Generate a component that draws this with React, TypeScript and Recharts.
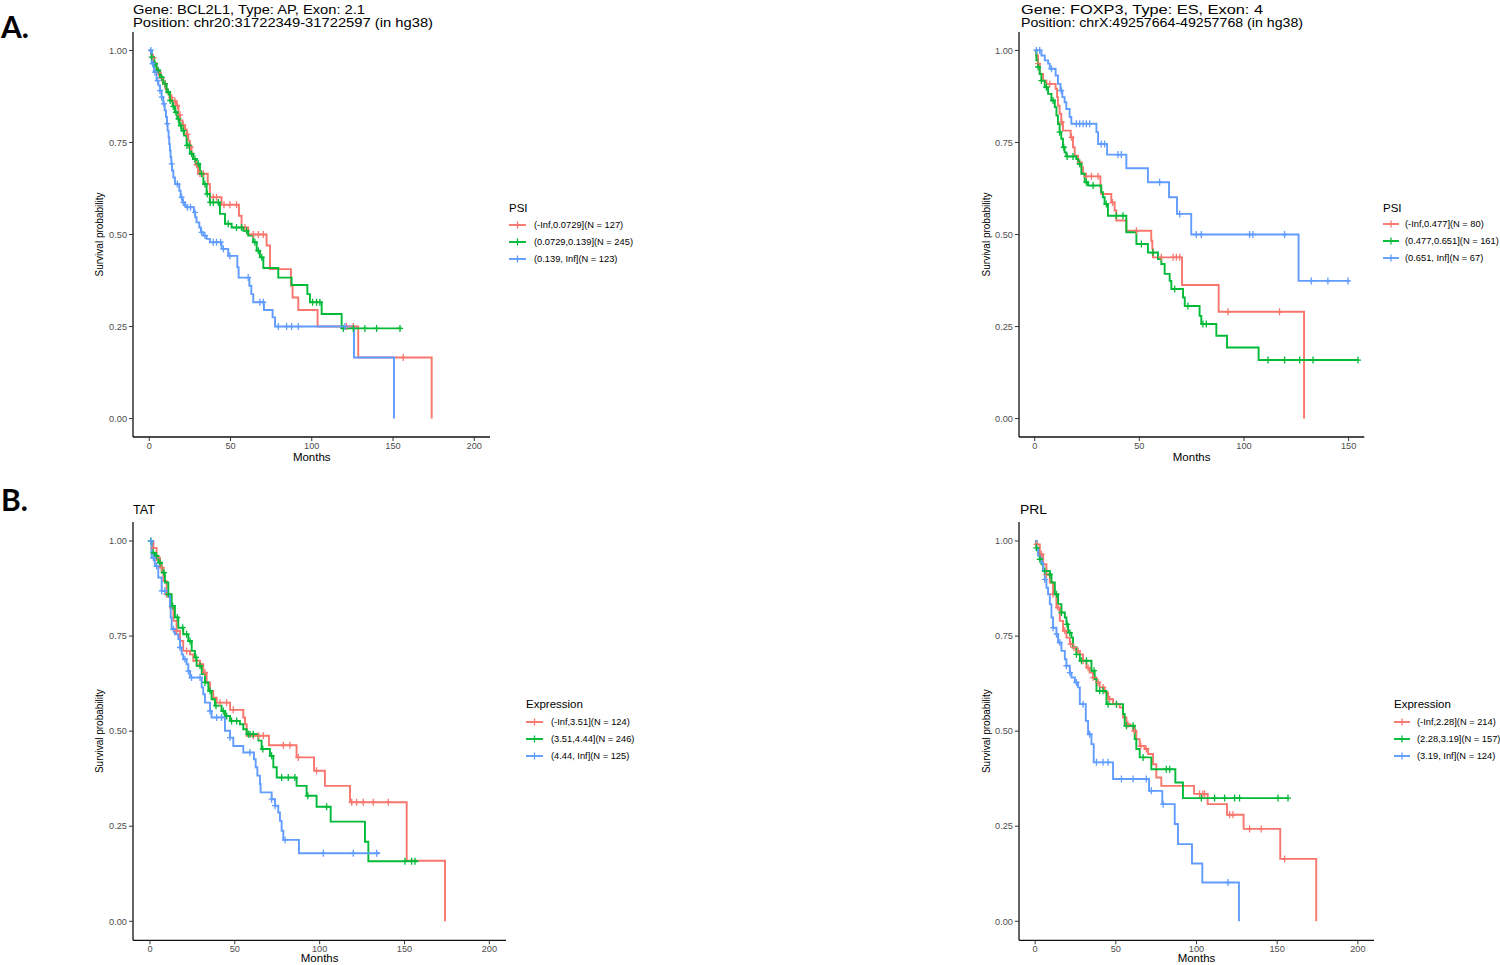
import { ComposedChart, Line, Scatter, XAxis, YAxis } from 'recharts';

const FONT = '"Liberation Sans", Arial, Helvetica, sans-serif';
const COLORS = ['#F8766D', '#00BA38', '#619CFF'];

// A (left) - BCL2L1 PSI groups: months, survival, censor months
const bclLowT = [0, 1, 2, 3, 4.5, 5.5, 7, 8.5, 10, 11, 12.5, 14, 16.5, 18, 19, 20.5, 22, 23, 24, 25, 26, 27, 28.5, 30, 36, 37.3, 44.5, 55.2, 56.8, 60.9, 72.2, 74.3, 87.2, 88.2, 91.7, 103.6, 128.6, 173.8];
const bclLowS = [1, 0.99, 0.98, 0.965, 0.95, 0.94, 0.925, 0.91, 0.895, 0.885, 0.872, 0.862, 0.85, 0.825, 0.81, 0.797, 0.785, 0.772, 0.755, 0.737, 0.72, 0.705, 0.69, 0.665, 0.637, 0.601, 0.581, 0.551, 0.519, 0.5, 0.47, 0.406, 0.361, 0.329, 0.295, 0.25, 0.166, 0];
const bclLowCens = [2.5, 5.6, 7.6, 9.7, 13.8, 15.8, 17.3, 18.9, 20.9, 23.5, 25.5, 29.1, 31.2, 33.3, 39.4, 41.4, 46, 49.6, 53.7, 58.9, 64, 67.1, 70.2, 121.4, 125.6, 156.3];
const bclMidT = [0, 1.5, 2.9, 4.5, 6.6, 8.6, 10.7, 12.7, 14.4, 15.8, 17.2, 18.5, 19.9, 21.4, 23, 25, 27.1, 29.1, 31.2, 33.3, 35.3, 37.3, 43.5, 46.6, 50.7, 57.9, 60.9, 64, 66.1, 68.1, 70.2, 79.4, 87.6, 97.3, 98.9, 106.1, 118.4, 155.3];
const bclMidS = [1, 0.982, 0.964, 0.946, 0.927, 0.909, 0.887, 0.864, 0.848, 0.832, 0.814, 0.796, 0.782, 0.769, 0.742, 0.719, 0.705, 0.692, 0.665, 0.637, 0.61, 0.587, 0.556, 0.529, 0.519, 0.51, 0.497, 0.479, 0.456, 0.438, 0.409, 0.383, 0.363, 0.338, 0.316, 0.284, 0.245, 0.245];
const bclMidCens = [1.5, 3.5, 5.5, 7.6, 9.7, 11.7, 12.9, 14.8, 16.4, 17.9, 19.4, 21, 23.2, 24.6, 26.1, 28.1, 30.2, 32.2, 34.3, 35.7, 37.5, 39.4, 42.5, 48.6, 53.7, 56.8, 59.9, 65, 67.1, 69.2, 100.5, 103, 105, 119.4, 125.6, 132.7, 139.9, 154.3];
const bclHighT = [0, 1.5, 2.9, 4.5, 5.6, 6.6, 7.6, 8.6, 9.5, 10.3, 10.9, 11.3, 11.9, 12.3, 12.7, 13.1, 13.6, 14, 14.8, 15.8, 18.5, 19.3, 20.5, 22, 23, 27.5, 28.3, 29.1, 30.8, 31.8, 33.3, 35.3, 37.3, 44.5, 48.6, 54.2, 55, 61.6, 62.8, 64, 70.6, 75.9, 77.4, 126, 150.6];
const bclHighS = [1, 0.964, 0.941, 0.918, 0.905, 0.891, 0.873, 0.855, 0.837, 0.819, 0.801, 0.782, 0.764, 0.746, 0.728, 0.71, 0.692, 0.674, 0.655, 0.637, 0.619, 0.601, 0.587, 0.578, 0.574, 0.56, 0.547, 0.533, 0.519, 0.506, 0.497, 0.488, 0.479, 0.461, 0.442, 0.411, 0.383, 0.361, 0.338, 0.316, 0.295, 0.275, 0.25, 0.166, 0];
const bclHighCens = [1, 2.1, 3.5, 5.2, 6.6, 7.6, 9, 11.1, 13.8, 17.3, 19.9, 21, 23.5, 25.4, 28.1, 32.2, 34.3, 39.4, 41.4, 43.9, 45.6, 49.6, 60.9, 68.1, 70.2, 79.4, 84.5, 87.6, 91.7, 120.4];

// A (right) - FOXP3
const foxLowT = [0, 0.8, 1.6, 2.4, 4, 5.6, 10, 10.7, 11.1, 11.9, 12.7, 13.5, 17.2, 18.3, 19.1, 20.7, 22.3, 23.1, 23.9, 31.4, 31.8, 36.6, 38.2, 39, 43.8, 55.7, 56.2, 56.5, 70.4, 87.9, 128.7];
const foxLowS = [1, 0.986, 0.964, 0.936, 0.918, 0.909, 0.896, 0.873, 0.85, 0.828, 0.805, 0.782, 0.764, 0.737, 0.714, 0.696, 0.683, 0.665, 0.658, 0.628, 0.61, 0.587, 0.565, 0.538, 0.51, 0.483, 0.461, 0.438, 0.363, 0.29, 0];
const foxLowCens = [1.6, 7.2, 12.9, 17.6, 21.5, 24.7, 27.1, 30.3, 37.2, 48.6, 60.5, 66.1, 67.7, 69.3, 92.4, 117];
const foxMidT = [0, 0.8, 1.6, 2.4, 3.2, 4.8, 6.4, 8, 9.6, 10.4, 11.1, 11.9, 12.7, 13.5, 14.3, 15.1, 19.9, 20.7, 22.3, 23.9, 25.5, 31.8, 32.6, 33.4, 35, 43.8, 48.6, 54.1, 58.9, 60.5, 62.1, 64.5, 65.3, 70.9, 71.7, 78.8, 79.6, 86.8, 91.9, 107, 154.9];
const foxMidS = [1, 0.973, 0.955, 0.936, 0.918, 0.9, 0.882, 0.864, 0.846, 0.823, 0.8, 0.778, 0.76, 0.737, 0.723, 0.712, 0.705, 0.692, 0.665, 0.642, 0.633, 0.615, 0.601, 0.583, 0.551, 0.506, 0.474, 0.451, 0.433, 0.42, 0.393, 0.374, 0.352, 0.329, 0.306, 0.279, 0.257, 0.225, 0.193, 0.159, 0.159];
const foxMidCens = [1.6, 3.2, 5.6, 8.8, 11.9, 13.9, 15.5, 18.3, 21.5, 24.7, 27.9, 34.2, 39, 42.2, 51, 56.5, 66.9, 73.2, 80.4, 82, 111.5, 119.4, 126.6, 133, 154.5];
const foxHighT = [0, 3.2, 4.8, 6.4, 7.2, 10, 11.1, 12.3, 13.2, 14.3, 15.1, 16.7, 17.5, 29.5, 30.3, 34.6, 43.8, 54.1, 64.2, 68, 74.8, 126.1, 150.5];
const foxHighS = [1, 0.986, 0.973, 0.964, 0.95, 0.932, 0.909, 0.891, 0.873, 0.859, 0.841, 0.819, 0.801, 0.778, 0.746, 0.717, 0.68, 0.642, 0.601, 0.556, 0.5, 0.374, 0.374];
const foxHighCens = [0.8, 2.4, 8, 12.7, 19.9, 21.5, 23.1, 24.7, 26.3, 31.8, 33.4, 39.8, 41.4, 59.7, 69.3, 77.2, 79.6, 102.7, 104.3, 119.4, 132.2, 140.1, 149.7];

// B (left) - TAT expression
const tatLowT = [0, 2, 3.9, 5.9, 7.9, 9.8, 11.8, 13.8, 15.7, 17.7, 19.6, 23.6, 25.5, 29.5, 31.4, 33.4, 35.4, 37.3, 39.3, 47.2, 55, 56, 57, 70.1, 86.4, 96.7, 103.1, 117.9, 151.3, 173.9];
const tatLowS = [1, 0.982, 0.956, 0.93, 0.895, 0.86, 0.825, 0.79, 0.764, 0.737, 0.711, 0.702, 0.685, 0.676, 0.654, 0.628, 0.606, 0.588, 0.575, 0.556, 0.536, 0.518, 0.488, 0.463, 0.431, 0.396, 0.356, 0.313, 0.159, 0];
const tatLowCens = [2, 3.9, 6.9, 9.8, 15.7, 21.6, 29.5, 32.4, 41.3, 45.2, 49.1, 60.9, 63.9, 66.8, 78.6, 82.5, 87.4, 98.2, 118.9, 121.8, 125.7, 131.6, 140.5];
const tatMidT = [0, 1, 2.9, 4.9, 6.9, 8.8, 10.8, 12.8, 14.7, 16.7, 19.6, 22.6, 24.6, 26.5, 27.5, 30.5, 32.4, 34.4, 36.3, 38.3, 42.2, 44.2, 47.2, 53, 55, 57, 63.9, 65.8, 70.7, 72.7, 74.7, 86.4, 92.3, 98.2, 106.5, 126.7, 128.7, 158.2];
const tatMidS = [1, 0.969, 0.961, 0.943, 0.917, 0.891, 0.86, 0.829, 0.799, 0.772, 0.755, 0.737, 0.711, 0.694, 0.672, 0.65, 0.628, 0.606, 0.584, 0.567, 0.553, 0.54, 0.527, 0.518, 0.505, 0.492, 0.475, 0.453, 0.435, 0.405, 0.378, 0.356, 0.33, 0.301, 0.262, 0.209, 0.158, 0.158];
const tatMidCens = [0.4, 2, 3.9, 5.9, 8.3, 10.8, 13.4, 16.1, 19.3, 21.6, 23.6, 27.1, 29.5, 32.4, 35.4, 38.9, 43.2, 45.2, 48.1, 51.1, 58, 59, 60.9, 66.5, 71.7, 77.6, 81.5, 85.4, 93, 104.1, 150.3, 154.2, 156.2];
const tatHighT = [0, 1, 2.9, 4.9, 6.9, 9.8, 11.8, 12.2, 12.8, 14.7, 16.7, 17.7, 18.7, 19.6, 21.6, 22.6, 23.6, 30.5, 31.4, 32.4, 35.4, 36.3, 44.2, 47.2, 49.1, 55, 61.3, 62.3, 63.3, 64.8, 65.2, 71.7, 73.7, 75.6, 76.6, 77.6, 78.6, 87.8, 135.6];
const tatHighS = [1, 0.956, 0.934, 0.904, 0.869, 0.856, 0.829, 0.799, 0.768, 0.755, 0.742, 0.72, 0.702, 0.689, 0.676, 0.658, 0.641, 0.615, 0.597, 0.575, 0.553, 0.536, 0.501, 0.483, 0.461, 0.444, 0.426, 0.405, 0.383, 0.361, 0.339, 0.321, 0.304, 0.286, 0.264, 0.238, 0.214, 0.179, 0.179];
const tatHighCens = [0.6, 2, 3.9, 6.9, 8.8, 13.8, 17.7, 20.6, 22.6, 24.5, 29.5, 35.4, 39.3, 42.2, 47.2, 58.9, 71.7, 73.7, 79.6, 102.2, 119.8, 133.6];

// B (right) - PRL expression
const prlLowT = [0, 0.8, 2.9, 5, 7, 9.1, 11.1, 13.2, 15.3, 17.3, 19.4, 21.5, 23.5, 25.6, 27.7, 29.7, 31.8, 33.8, 35.9, 38, 40, 43.1, 45.2, 48.3, 52.4, 54.5, 56.6, 58.6, 60.7, 62.7, 64.8, 67.9, 70, 73.1, 75.1, 78.2, 98.5, 106.9, 118.9, 129.2, 151.9, 174.2];
const prlLowS = [1, 0.991, 0.965, 0.939, 0.912, 0.891, 0.86, 0.825, 0.79, 0.764, 0.746, 0.729, 0.72, 0.711, 0.702, 0.685, 0.667, 0.654, 0.641, 0.628, 0.615, 0.602, 0.584, 0.571, 0.562, 0.536, 0.518, 0.514, 0.501, 0.479, 0.461, 0.453, 0.44, 0.413, 0.378, 0.356, 0.335, 0.308, 0.28, 0.243, 0.164, 0];
const prlLowCens = [0.8, 3.9, 7, 11.1, 14.2, 18.4, 22, 24, 26.6, 29.7, 32.8, 35.9, 39, 42.1, 46.2, 50.4, 57.5, 61.5, 65.5, 68.9, 101.9, 103.9, 105, 120.6, 122.6, 132.9, 140.1, 154.6];
const prlMidT = [0, 0.8, 1.9, 2.9, 3.9, 5, 9.1, 10.1, 12.2, 14.2, 16.3, 18.4, 19.4, 20.4, 22.5, 23.5, 25.6, 27.7, 34.9, 36.9, 38, 44.2, 54.5, 55.5, 61.7, 62.7, 64.8, 72, 86.9, 91.6, 157.1];
const prlMidS = [1, 0.982, 0.965, 0.952, 0.939, 0.921, 0.912, 0.891, 0.86, 0.834, 0.812, 0.799, 0.781, 0.759, 0.746, 0.72, 0.702, 0.685, 0.659, 0.637, 0.606, 0.571, 0.545, 0.514, 0.479, 0.453, 0.431, 0.4, 0.365, 0.324, 0.324];
const prlMidCens = [0.8, 2.9, 6, 9.1, 13.2, 16.3, 19.8, 21.5, 25.6, 28.7, 31.8, 36.5, 40, 42.1, 45.2, 50.4, 56.6, 60.7, 66.9, 81.3, 83.4, 103, 111.2, 117.4, 123.6, 126.7, 150.5, 156.7];
const prlHighT = [0, 0.8, 1.9, 3.9, 5, 6, 7, 8, 9.1, 10.1, 11.1, 13.2, 14.2, 16.3, 18.4, 19.4, 21.5, 22.5, 24.6, 26.6, 27.7, 31.4, 32.8, 34.9, 36.3, 48.3, 70.6, 78.8, 86.5, 88.5, 97.2, 103.6, 126.3];
const prlHighS = [1, 0.978, 0.961, 0.943, 0.921, 0.899, 0.877, 0.86, 0.834, 0.799, 0.772, 0.755, 0.733, 0.711, 0.689, 0.672, 0.654, 0.641, 0.628, 0.615, 0.571, 0.527, 0.492, 0.466, 0.418, 0.374, 0.343, 0.308, 0.256, 0.203, 0.152, 0.102, 0];
const prlHighCens = [6, 11.1, 13.2, 15.3, 19.4, 21.5, 25.6, 29.7, 33.8, 38, 42.1, 45.2, 53.5, 60.7, 68.9, 72, 79.3, 119.5];

const bclLegend = ['(-Inf,0.0729](N = 127)', '(0.0729,0.139](N = 245)', '(0.139, Inf](N = 123)'];
const foxLegend = ['(-Inf,0.477](N = 80)', '(0.477,0.651](N = 161)', '(0.651, Inf](N = 67)'];
const tatLegend = ['(-Inf,3.51](N = 124)', '(3.51,4.44](N = 246)', '(4.44, Inf](N = 125)'];
const prlLegend = ['(-Inf,2.28](N = 214)', '(2.28,3.19](N = 157)', '(3.19, Inf](N = 124)'];

const survTicks = [0, 0.25, 0.5, 0.75, 1];
const monthTicksWide = [0, 50, 100, 150, 200];
const monthTicksNarrow = [0, 50, 100, 150];

type Group = { t: number[]; s: number[]; c: number[] };

const toCurve = (t: number[], s: number[]) => t.map((m, i) => ({ t: m, s: s[i] }));

// survival value of the step curve at each censoring time
const toCensor = (g: Group) =>
  g.c.map((m) => {
    let v = g.s[0];
    g.t.forEach((tt, i) => {
      if (tt <= m) v = g.s[i];
    });
    return { t: m, s: v };
  });

function Plus({ cx, cy, color }: { cx: number; cy: number; color: string }) {
  if (cx == null || cy == null) return null;
  return (
    <g>
      <line x1={cx - 3} x2={cx + 3} y1={cy} y2={cy} stroke={color} strokeWidth={1.3} />
      <line x1={cx} x2={cx} y1={cy - 3.5} y2={cy + 3.5} stroke={color} strokeWidth={1.3} />
    </g>
  );
}

interface PanelProps {
  left: number;
  top: number;
  plotW: number;
  plotH: number;
  yAxisW: number;
  xAxisH: number;
  domain: [number, number];
  ticks: number[];
  groups: Group[];
}

function KmPanel({ left, top, plotW, plotH, yAxisW, xAxisH, domain, ticks, groups }: PanelProps) {
  const tickStyle = { fill: '#4d4d4d', fontSize: 9.2, fontFamily: FONT };
  return (
    <div style={{ position: 'absolute', left: left - yAxisW, top }}>
      <ComposedChart
        width={yAxisW + plotW}
        height={plotH + xAxisH}
        margin={{ top: 0, right: 0, bottom: 0, left: 0 }}
      >
        <XAxis
          type="number"
          dataKey="t"
          domain={domain}
          ticks={ticks}
          interval={0}
          allowDataOverflow
          height={xAxisH}
          tick={tickStyle}
          tickSize={4}
          tickMargin={1}
          axisLine={{ stroke: '#111', strokeWidth: 1.3 }}
          tickLine={{ stroke: '#333' }}
          label={{ value: 'Months', position: 'center', fill: '#000', fontSize: 11.5, fontFamily: FONT }}
        />
        <YAxis
          type="number"
          dataKey="s"
          domain={[-0.05, 1.05]}
          ticks={survTicks}
          interval={0}
          allowDataOverflow
          width={yAxisW}
          tickFormatter={(v: number) => v.toFixed(2)}
          tick={tickStyle}
          tickSize={4}
          tickMargin={2}
          axisLine={{ stroke: '#111', strokeWidth: 1.3 }}
          tickLine={{ stroke: '#333' }}
          label={{
            value: 'Survival probability',
            angle: -90,
            position: 'center',
            fill: '#000',
            fontSize: 10,
            fontFamily: FONT,
          }}
        />
        {groups.map((g, i) => (
          <Line
            key={'line' + i}
            data={toCurve(g.t, g.s)}
            dataKey="s"
            type="stepAfter"
            stroke={COLORS[i]}
            strokeWidth={1.9}
            dot={false}
            activeDot={false}
            isAnimationActive={false}
          />
        ))}
        {groups.map((g, i) => (
          <Scatter
            key={'cens' + i}
            data={toCensor(g)}
            dataKey="s"
            isAnimationActive={false}
            shape={(p: any) => <Plus cx={p.cx} cy={p.cy} color={COLORS[i]} />}
          />
        ))}
      </ComposedChart>
    </div>
  );
}

function LegendBlock({ x, titleY, title, rows, rowY, keyW, textX }: {
  x: number; titleY: number; title: string; rows: string[]; rowY: number[]; keyW: number; textX: number;
}) {
  return (
    <g fontFamily={FONT}>
      <text x={x} y={titleY} fontSize={11.5} fill="#000">{title}</text>
      {rows.map((r, i) => (
        <g key={r}>
          <line x1={x} x2={x + keyW} y1={rowY[i]} y2={rowY[i]} stroke={COLORS[i]} strokeWidth={1.9} />
          <line x1={x + keyW / 2} x2={x + keyW / 2} y1={rowY[i] - 3.5} y2={rowY[i] + 3.5} stroke={COLORS[i]} strokeWidth={1.3} />
          <text x={textX} y={rowY[i] + 3.3} fontSize={9.3} fill="#000">{r}</text>
        </g>
      ))}
    </g>
  );
}

export default function App() {
  const bclGroups = [
    { t: bclLowT, s: bclLowS, c: bclLowCens },
    { t: bclMidT, s: bclMidS, c: bclMidCens },
    { t: bclHighT, s: bclHighS, c: bclHighCens },
  ];
  const foxGroups = [
    { t: foxLowT, s: foxLowS, c: foxLowCens },
    { t: foxMidT, s: foxMidS, c: foxMidCens },
    { t: foxHighT, s: foxHighS, c: foxHighCens },
  ];
  const tatGroups = [
    { t: tatLowT, s: tatLowS, c: tatLowCens },
    { t: tatMidT, s: tatMidS, c: tatMidCens },
    { t: tatHighT, s: tatHighS, c: tatHighCens },
  ];
  const prlGroups = [
    { t: prlLowT, s: prlLowS, c: prlLowCens },
    { t: prlMidT, s: prlMidS, c: prlMidCens },
    { t: prlHighT, s: prlHighS, c: prlHighCens },
  ];

  return (
    <div style={{ position: 'relative', width: 1500, height: 965, background: '#fff', overflow: 'hidden' }}>
      <style>{'body{margin:0;}'}</style>
      <KmPanel left={132.7} top={31.7} plotW={357.5} plotH={405} yAxisW={67} xAxisH={40}
        domain={[-10, 210]} ticks={monthTicksWide} groups={bclGroups} />
      <KmPanel left={1019.3} top={31.7} plotW={345.3} plotH={405} yAxisW={65} xAxisH={40}
        domain={[-7.5, 157.5]} ticks={monthTicksNarrow} groups={foxGroups} />
      <KmPanel left={132.7} top={521.7} plotW={373.3} plotH={418.3} yAxisW={67} xAxisH={36}
        domain={[-10, 210]} ticks={monthTicksWide} groups={tatGroups} />
      <KmPanel left={1019.3} top={521.7} plotW={355} plotH={418.3} yAxisW={65} xAxisH={36}
        domain={[-10, 210]} ticks={monthTicksWide} groups={prlGroups} />

      <svg width={1500} height={965} style={{ position: 'absolute', left: 0, top: 0, pointerEvents: 'none' }}>
        <g fontFamily='Lato, "Open Sans", sans-serif' fontWeight={700} fontSize={30} fill="#000">
          <text x={1} y={38}>A.</text>
          <text x={1} y={511}>B.</text>
        </g>
        <g fontFamily={FONT} fontSize={12.5} fill="#000">
          <text x={133} y={13.5} textLength={232} lengthAdjust="spacingAndGlyphs">Gene: BCL2L1, Type: AP, Exon: 2.1</text>
          <text x={133} y={26.5} textLength={300} lengthAdjust="spacingAndGlyphs">Position: chr20:31722349-31722597 (in hg38)</text>
          <text x={1021} y={13.5} textLength={242} lengthAdjust="spacingAndGlyphs">Gene: FOXP3, Type: ES, Exon: 4</text>
          <text x={1021} y={26.5} textLength={282} lengthAdjust="spacingAndGlyphs">Position: chrX:49257664-49257768 (in hg38)</text>
          <text x={133} y={514} fontSize={12} textLength={22} lengthAdjust="spacingAndGlyphs">TAT</text>
          <text x={1020} y={514} fontSize={12} textLength={27} lengthAdjust="spacingAndGlyphs">PRL</text>
        </g>
        <LegendBlock x={509} titleY={212} title="PSI" rows={bclLegend} rowY={[225, 242, 259]} keyW={17} textX={534} />
        <LegendBlock x={1383} titleY={212} title="PSI" rows={foxLegend} rowY={[224, 241, 258]} keyW={16} textX={1405} />
        <LegendBlock x={526} titleY={708} title="Expression" rows={tatLegend} rowY={[722, 739, 756]} keyW={17} textX={551} />
        <LegendBlock x={1394} titleY={708} title="Expression" rows={prlLegend} rowY={[722, 739, 756]} keyW={16} textX={1417} />
      </svg>
    </div>
  );
}
